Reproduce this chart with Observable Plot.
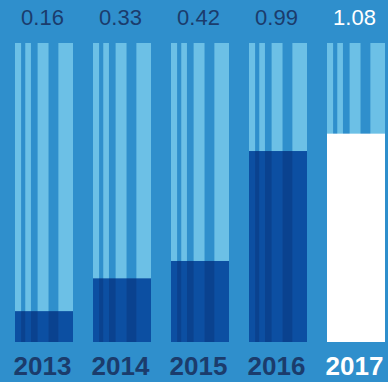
<!DOCTYPE html>
<html>
<head>
<meta charset="utf-8">
<script src="https://cdn.jsdelivr.net/npm/d3@7"></script>
<script src="https://cdn.jsdelivr.net/npm/@observablehq/plot@0.6"></script>
<style>
  html, body { margin: 0; padding: 0; background: #2f8fcc; }
</style>
</head>
<body>
<div id="chart"></div>
<script>
// Yearly values, one bar per year
const years = ["2013", "2014", "2015", "2016", "2017"];
const values = [0.16, 0.33, 0.42, 0.99, 1.08];
// Full height of the striped track behind each bar
const trackMax = 1.55;
// Year drawn in white
const highlightYear = "2017";

const rows = years.map((year, i) => ({ year, value: values[i], track: trackMax }));
const past = rows.filter(d => d.year !== highlightYear);
const current = rows.filter(d => d.year === highlightYear);

const navy = "#1b3c6c";
const bg = "#2f8fcc";

// Stripe layout inside a column, as fractions of the bar width
const stripeBands = [[0, 0.105], [0.177, 0.275], [0.39, 0.578], [0.748, 1]];

const valueLabel = { x: "year", text: d => d.value.toFixed(2), frameAnchor: "top", lineAnchor: "middle", dy: -25.5, dx: -2, fontSize: 22 };
const yearLabel = { x: "year", text: "year", frameAnchor: "bottom", lineAnchor: "middle", dy: 24, dx: -2, fontSize: 26, fontWeight: "bold" };

const chart = Plot.plot({
  width: 388,
  height: 382,
  marginTop: 43,
  marginBottom: 40,
  marginLeft: 13,
  marginRight: 0,
  style: { background: bg, fontFamily: "'Liberation Sans', Arial, Helvetica, sans-serif" },
  x: { domain: years, paddingInner: 20 / 79, paddingOuter: 0, axis: null },
  y: { domain: [0, trackMax], axis: null },
  marks: [
    Plot.barY(rows, { x: "year", y: "track", fill: "url(#track-stripes)" }),
    Plot.barY(past, { x: "year", y: "value", fill: "url(#dark-stripes)" }),
    Plot.barY(current, { x: "year", y: "value", fill: "#ffffff" }),
    Plot.text(past, { ...valueLabel, fill: navy }),
    Plot.text(current, { ...valueLabel, fill: "#ffffff" }),
    Plot.text(past, { ...yearLabel, fill: navy }),
    Plot.text(current, { ...yearLabel, fill: "#ffffff" })
  ]
});

// Striped paint servers for the tracks and the dark bars
const defs = d3.select(chart).insert("defs", ":first-child");
function stripePattern(id, base, stripe) {
  const p = defs.append("pattern")
    .attr("id", id)
    .attr("patternUnits", "objectBoundingBox")
    .attr("patternContentUnits", "objectBoundingBox")
    .attr("width", 1)
    .attr("height", 1);
  p.append("rect").attr("width", 1).attr("height", 1).attr("fill", base);
  for (const [a, b] of stripeBands) {
    p.append("rect").attr("x", a).attr("y", 0).attr("width", b - a).attr("height", 1).attr("fill", stripe);
  }
}
stripePattern("track-stripes", bg, "#6cc0e6");
stripePattern("dark-stripes", "#0a428f", "#0c4fa2");

document.getElementById("chart").appendChild(chart);
</script>
</body>
</html>
